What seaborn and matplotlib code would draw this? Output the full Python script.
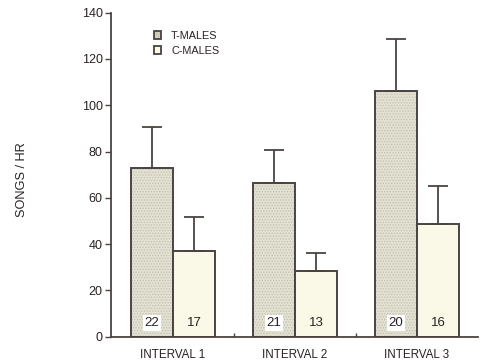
import matplotlib
matplotlib.use("Agg")
import matplotlib.pyplot as plt
import seaborn as sns
import pandas as pd
from matplotlib.colors import to_rgba
from matplotlib.patches import Patch

# Song rates (mean songs per hour) with upper error bars and sample sizes
intervals = ["INTERVAL 1", "INTERVAL 2", "INTERVAL 3"]
groups = ["T-MALES", "C-MALES"]
t_means = [73.0, 66.3, 106.3]
c_means = [37.0, 28.4, 48.8]
t_err = [17.7, 14.3, 22.3]
c_err = [14.7, 7.8, 16.2]
t_n = [22, 21, 20]
c_n = [17, 13, 16]

df = pd.DataFrame({
    "interval": intervals * 2,
    "group": [groups[0]] * 3 + [groups[1]] * 3,
    "songs": t_means + c_means,
})

sns.set_style("ticks")
plt.rcParams["font.family"] = ["Liberation Sans", "DejaVu Sans"]
plt.rcParams["hatch.linewidth"] = 0.6

ink = "#4a4342"
txt = "#2a2222"
fill_t = "#e6e3d0"
fill_c = "#fdfbe4"
stipple = "#c4c0ae"

fig = plt.figure(figsize=(4.82, 3.61), dpi=100)
ax = fig.add_axes([0.2303, 0.0673, 0.7614, 0.8975])

sns.barplot(data=df, x="interval", y="songs", hue="group", order=intervals,
            hue_order=groups, palette=[fill_t, fill_c], width=0.69,
            errorbar=None, edgecolor=ink, linewidth=1.4, legend=False, ax=ax)

# fine light stipple on the treated bars
for p in ax.containers[0]:
    p.set_hatch("......")
    if hasattr(p, "set_hatchcolor"):
        p.set_hatchcolor(stipple)
    else:
        p._hatch_color = to_rgba(stipple)

for cont, means, errs, ns, boxed in [
    (ax.containers[0], t_means, t_err, t_n, True),
    (ax.containers[1], c_means, c_err, c_n, False),
]:
    xs = [p.get_x() + p.get_width() / 2 for p in cont]
    ax.errorbar(xs, means, yerr=[[0] * len(errs), errs], fmt="none",
                ecolor=ink, elinewidth=1.3, capsize=7.5, capthick=1.3,
                zorder=1)
    for x, n in zip(xs, ns):
        kw = dict(ha="center", va="center", fontsize=9.5, color=txt)
        if boxed:
            kw["bbox"] = dict(boxstyle="square,pad=0.15", fc="white", ec="none")
        ax.text(x, 5.8, str(n), **kw)

ax.set_xlim(-0.508, 2.5)
ax.set_ylim(0, 140)
ax.set_yticks(range(0, 141, 20))
ax.set_xticks([0, 1, 2])
ax.set_xticklabels(intervals)
ax.set_xticks([0.5, 1.5], minor=True)
ax.tick_params(axis="x", which="major", length=0, pad=9, labelsize=8.4, colors=txt)
ax.tick_params(axis="x", which="minor", length=3, width=1.0, color=ink, direction="in")
ax.tick_params(axis="y", length=4, width=1.0, color=ink, labelsize=9,
               labelcolor=txt, pad=2)
ax.set_xlabel("")
ax.set_ylabel("SONGS / HR", fontsize=9.2, color=txt)
ax.yaxis.set_label_coords(-0.225, 0.485)
sns.despine(ax=ax)
for s in ("left", "bottom"):
    ax.spines[s].set_color(ink)
    ax.spines[s].set_linewidth(1.3)

handles = [Patch(facecolor="#cfcdb9", edgecolor=ink, linewidth=1.3),
           Patch(facecolor=fill_c, edgecolor=ink, linewidth=1.3)]
ax.legend(handles, groups, loc="upper left", bbox_to_anchor=(0.09, 0.975),
          frameon=False, fontsize=7.8, handlelength=0.7, handleheight=0.7,
          handletextpad=0.9, labelspacing=0.5, labelcolor=txt)

fig.savefig("out.png", dpi=100)
